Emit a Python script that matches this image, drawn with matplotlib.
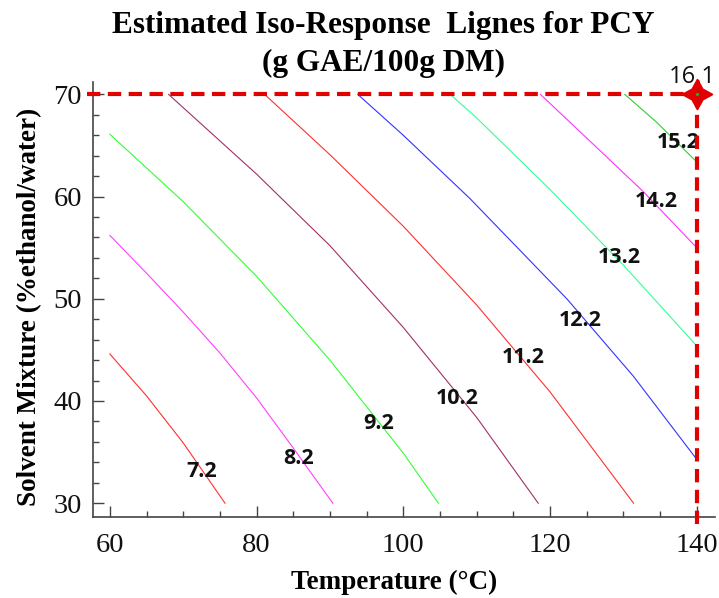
import matplotlib
matplotlib.use("Agg")
import matplotlib.pyplot as plt

# ---- data ----
levels = ["7.2", "8.2", "9.2", "10.2", "11.2", "12.2", "13.2", "14.2", "15.2"]

c72_x = [60.0, 65.0, 70.0, 75.7]
c72_y = [44.6, 40.5, 35.9, 30.0]

c82_x = [60.0, 65.0, 70.0, 75.0, 80.0, 85.0, 90.4]
c82_y = [56.2, 52.5, 48.7, 44.7, 40.3, 35.4, 30.0]

c92_x = [60.0, 70.0, 80.0, 90.0, 100.0, 104.8]
c92_y = [66.1, 59.5, 52.2, 44.0, 34.9, 30.0]

c102_x = [68.0, 80.0, 90.0, 100.0, 110.0, 118.4]
c102_y = [70.0, 62.2, 55.2, 47.2, 38.4, 30.0]

c112_x = [81.1, 90.0, 100.0, 110.0, 120.0, 131.4]
c112_y = [70.0, 64.1, 57.1, 49.4, 40.9, 30.0]

c122_x = [93.8, 100.0, 109.1, 122.3, 131.4, 140.0]
c122_y = [70.0, 66.0, 59.8, 50.0, 42.4, 34.3]

c132_x = [106.4, 110.0, 120.0, 130.0, 140.0]
c132_y = [70.0, 67.7, 60.7, 53.3, 45.4]

c142_x = [118.7, 127.7, 132.7, 140.0]
c142_y = [70.0, 63.9, 60.5, 55.0]

c152_x = [130.2, 134.5, 140.0]
c152_y = [70.0, 67.3, 63.4]

contour_x = [c72_x, c82_x, c92_x, c102_x, c112_x, c122_x, c132_x, c142_x, c152_x]
contour_y = [c72_y, c82_y, c92_y, c102_y, c112_y, c122_y, c132_y, c142_y, c152_y]
colors = ["#ff3030", "#ff40ff", "#33ff33", "#a0306a", "#ff3030",
          "#3333ff", "#33ff99", "#ff33ff", "#33cc33"]

label_x = [72.5, 85.7, 96.7, 107.3, 116.4, 124.1, 129.5, 134.5, 137.5]
label_y = [33.1, 34.4, 37.8, 40.2, 44.3, 47.9, 54.0, 59.5, 65.3]

opt_x, opt_y, opt_label = 140.0, 70.0, "16.1"

x_ticks = [60, 80, 100, 120, 140]
y_ticks = [30, 40, 50, 60, 70]

# ---- figure ----
W, H = 719, 598
fig = plt.figure(figsize=(W / 100, H / 100), dpi=100)
ax = fig.add_axes([93 / W, 1 - 516.7 / H, (715 - 93) / W, (516.7 - 81.7) / H])
ax.set_xlim(57.7, 142.5)
ax.set_ylim(28.68, 71.24)

for xs, ys, c in zip(contour_x, contour_y, colors):
    ax.plot(xs, ys, color=c, lw=0.8)

for lx, ly, t in zip(label_x, label_y, levels):
    ax.text(lx, ly, t, ha="center", va="center", fontsize=15.5,
            fontweight="bold", family="Open Sans", color="#111111")

# optimum guides
ax.plot([56.9, opt_x], [opt_y, opt_y], color="#e00000", lw=3,
        dashes=(3.2, 1.8), clip_on=False, zorder=5)
ax.plot([opt_x, opt_x], [opt_y, 27.7], color="#e00000", lw=3,
        dashes=(3.2, 1.8), clip_on=False, zorder=5)
ax.plot([opt_x], [opt_y], marker=(4, 1, 0), ms=22, color="#e00000",
        mec="#e00000", clip_on=False, zorder=6)
ax.plot([opt_x], [opt_y], marker="o", ms=1.5, color="#22aa22",
        clip_on=False, zorder=7)
ax.text(139.4, 71.7, opt_label, ha="center", va="center", fontsize=17,
        family="Open Sans", color="#111111", clip_on=False)

# axes styling
for s in ["top", "right"]:
    ax.spines[s].set_visible(False)
for s in ["left", "bottom"]:
    ax.spines[s].set_color("#444444")
    ax.spines[s].set_linewidth(1.2)

ax.set_xticks(x_ticks)
ax.set_yticks(y_ticks)
ax.set_xticks(range(60, 145, 5), minor=True)
ax.set_yticks(range(30, 72, 2), minor=True)
ax.tick_params(which="both", direction="in", color="#444444", width=1)
ax.tick_params(which="major", length=8)
ax.tick_params(which="minor", length=4.5)
ax.tick_params(axis="x", which="major", pad=12)
ax.tick_params(axis="y", which="major", pad=8)
for lab in ax.get_xticklabels() + ax.get_yticklabels():
    lab.set_family("Liberation Serif")
    lab.set_fontsize(20.5)
    lab.set_color("#111111")

fig.text(383 / W, 1 - 26 / H, "Estimated Iso-Response  Lignes for PCY",
         ha="center", va="center", fontsize=22.5, fontweight="bold",
         family="Liberation Serif")
fig.text(383 / W, 1 - 63 / H, "(g GAE/100g DM)",
         ha="center", va="center", fontsize=22.5, fontweight="bold",
         family="Liberation Serif")
fig.text(394 / W, 1 - 582 / H, "Temperature (°C)", ha="center", va="center",
         fontsize=19.5, fontweight="bold", family="Liberation Serif")
fig.text(30 / W, 1 - 307 / H, "Solvent Mixture (%ethanol/water)",
         ha="center", va="center", rotation=90, fontsize=19.5,
         fontweight="bold", family="Liberation Serif")

fig.savefig("out.png", dpi=100)
